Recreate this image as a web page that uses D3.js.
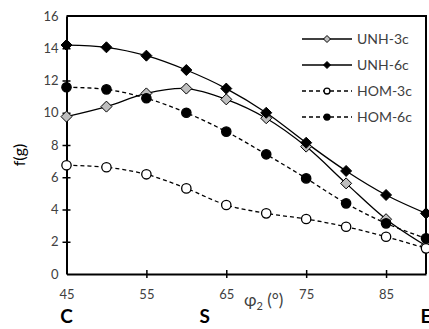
<!DOCTYPE html>
<html>
<head>
<meta charset="utf-8">
<script src="https://cdn.jsdelivr.net/npm/d3@7"></script>
<style>
  body { margin: 0; background: #fff; }
  text { font-family: Lato, "Open Sans", sans-serif; }
</style>
</head>
<body>
<div id="chart"></div>
<script>
const phi2 = [45, 50, 55, 60, 65, 70, 75, 80, 85, 90];
const unh3c = [9.76, 10.38, 11.2, 11.5, 10.83, 9.66, 7.9, 5.62, 3.4, 1.75];
const unh6c = [14.2, 14.06, 13.54, 12.65, 11.5, 10.0, 8.14, 6.39, 4.9, 3.76];
const hom3c = [6.74, 6.62, 6.18, 5.31, 4.28, 3.76, 3.41, 2.93, 2.31, 1.59];
const hom6c = [11.58, 11.45, 10.9, 10.0, 8.83, 7.42, 5.93, 4.38, 3.14, 2.21];
const xTicks = [45, 55, 65, 75, 85];
const yTicks = [0, 2, 4, 6, 8, 10, 12, 14, 16];
const regions = [{ label: "C", x: 45 }, { label: "S", x: 62.3 }, { label: "E", x: 90 }];

const series = [
  { name: "UNH-3c", values: unh3c, shape: "diamond", fill: "#bfbfbf", dash: null },
  { name: "UNH-6c", values: unh6c, shape: "diamond", fill: "#000", dash: null },
  { name: "HOM-3c", values: hom3c, shape: "circle", fill: "#fff", dash: "4,3" },
  { name: "HOM-6c", values: hom6c, shape: "circle", fill: "#000", dash: "4,3" }
];

const W = 429, H = 329;
const margin = { top: 16, right: 3, bottom: 55, left: 66.5 };
const width = W - margin.left - margin.right;
const height = H - margin.top - margin.bottom;

const svg = d3.select("#chart").append("svg")
  .attr("width", W)
  .attr("height", H);

const g = svg.append("g")
  .attr("transform", `translate(${margin.left},${margin.top})`);

const x = d3.scaleLinear().domain([45, 90]).range([0, width]);
const y = d3.scaleLinear().domain([0, 16]).range([height, 0]);

// frame (top and right)
g.append("path")
  .attr("d", `M0,0H${width}V${height}`)
  .attr("fill", "none")
  .attr("stroke", "#000")
  .attr("stroke-width", 2);

// y axis
const yAxis = g.append("g")
  .call(d3.axisLeft(y).tickValues(yTicks).tickSize(0).tickPadding(8));
yAxis.select(".domain").attr("stroke-width", 2);
yAxis.selectAll(".tick text")
  .attr("font-size", 13)
  .attr("fill", "#404040");
yAxis.selectAll(".tick").filter(d => d > 0 && d < 16)
  .append("line")
  .attr("x1", -4).attr("x2", 4)
  .attr("stroke", "#000").attr("stroke-width", 1.5);

// x axis
const xAxis = g.append("g")
  .attr("transform", `translate(0,${height})`)
  .call(d3.axisBottom(x).tickValues(xTicks).tickSize(0).tickPadding(16));
xAxis.select(".domain").attr("stroke-width", 2);
xAxis.selectAll(".tick text")
  .attr("font-size", 13)
  .attr("fill", "#404040");
xAxis.selectAll(".tick").filter(d => d > 45)
  .append("line")
  .attr("y1", -4).attr("y2", 4)
  .attr("stroke", "#000").attr("stroke-width", 1.5);

// axis titles
svg.append("text")
  .attr("transform", `translate(25,${margin.top + height / 2 + 10}) rotate(-90)`)
  .attr("text-anchor", "middle")
  .attr("font-size", 16)
  .attr("fill", "#000")
  .text("f(g)");

const xt = svg.append("text")
  .attr("x", 244)
  .attr("y", 306)
  .attr("font-size", 17)
  .attr("fill", "#404040");
xt.append("tspan").text("φ");
xt.append("tspan").attr("font-size", 11).attr("dy", 4).text("2");
xt.append("tspan").attr("dy", -4).text(" (°)");

// region letters
g.selectAll(".region")
  .data(regions)
  .enter().append("text")
  .attr("class", "region")
  .attr("x", d => x(d.x))
  .attr("y", height + 49)
  .attr("text-anchor", "middle")
  .attr("font-size", 19)
  .attr("font-weight", "bold")
  .attr("fill", "#000")
  .text(d => d.label);

// lines
const line = d3.line()
  .x((d, i) => x(phi2[i]))
  .y(d => y(d))
  .curve(d3.curveCatmullRom.alpha(0.5));

function drawMarker(sel, s, size) {
  if (s.shape === "diamond") {
    sel.append("path")
      .attr("d", `M0,${-size}L${size},0L0,${size}L${-size},0Z`)
      .attr("fill", s.fill)
      .attr("stroke", "#000")
      .attr("stroke-width", 1);
  } else {
    sel.append("circle")
      .attr("r", size * 0.85)
      .attr("fill", s.fill)
      .attr("stroke", "#000")
      .attr("stroke-width", 1.3);
  }
}

series.forEach(s => {
  g.append("path")
    .datum(s.values)
    .attr("d", line)
    .attr("fill", "none")
    .attr("stroke", "#000")
    .attr("stroke-width", 1.3)
    .attr("stroke-dasharray", s.dash);
});

series.forEach(s => {
  g.selectAll(null)
    .data(s.values)
    .enter().append("g")
    .attr("transform", (d, i) => `translate(${x(phi2[i])},${y(d)})`)
    .each(function () { drawMarker(d3.select(this), s, 5.5); });
});

// legend
const legend = svg.append("g").attr("transform", "translate(302,39)");
series.forEach((s, i) => {
  const row = legend.append("g").attr("transform", `translate(0,${i * 26})`);
  row.append("line")
    .attr("x1", 0).attr("x2", 50)
    .attr("stroke", "#000")
    .attr("stroke-width", 1.3)
    .attr("stroke-dasharray", s.dash);
  const m = row.append("g").attr("transform", "translate(25,0)");
  drawMarker(m, s, 3.5);
  row.append("text")
    .attr("x", 55)
    .attr("y", 5)
    .attr("font-size", 14)
    .attr("fill", "#404040")
    .text(s.name);
});
</script>
</body>
</html>
